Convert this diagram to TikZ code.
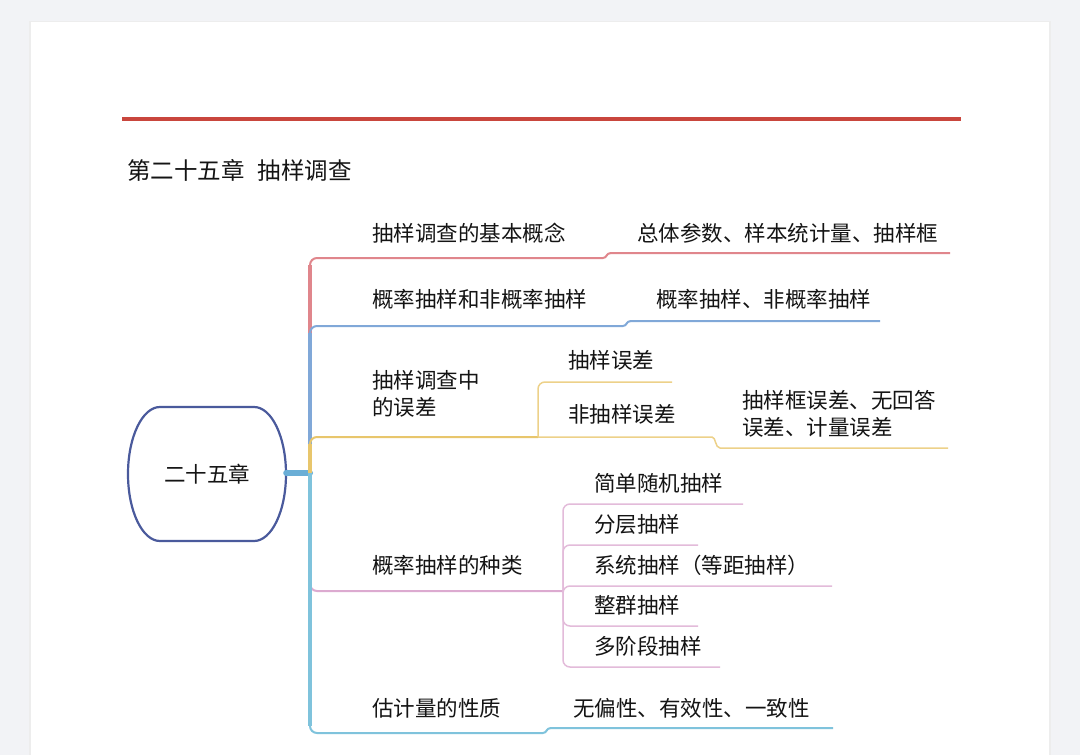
\documentclass[tikz,border=0pt]{standalone}
\usepackage{fontspec}
\setmainfont{Noto Sans CJK SC}
\usepackage{xcolor}
\usetikzlibrary{positioning}
\definecolor{pagebg}{HTML}{F2F3F6}
\definecolor{rulered}{HTML}{C9463D}
\definecolor{rootblue}{HTML}{4A5A9C}
\definecolor{hubblue}{HTML}{6AAED6}
\definecolor{redbr}{HTML}{E0868C}
\definecolor{bluebr}{HTML}{80A8D8}
\definecolor{yellowbr}{HTML}{E8C66C}
\definecolor{pinkbr}{HTML}{DCAAD0}
\definecolor{tealbr}{HTML}{7FC3DC}
\definecolor{inktext}{HTML}{141414}

\begin{document}
\begin{tikzpicture}[
  x=1pt, y=-1pt,
  label/.style={anchor=west, inner sep=0pt, align=left, text=inktext,
                font=\fontsize{21.5}{26.5}\selectfont},
  root/.style={minimum width=158pt, minimum height=134pt, inner sep=0pt,
               text=inktext, font=\fontsize{21.5}{26.5}\selectfont},
  trunk/.style={line width=4.5pt},
  branch/.style={line width=2pt, rounded corners=7pt},
  twig/.style={line width=1.5pt, rounded corners=7pt},
  stepline/.style={line width=2pt},
  smallstep/.style={line width=1.5pt}
]
  \useasboundingbox (0,0) rectangle (1080,755);

  % Page
  \fill[pagebg] (0,0) rectangle (1080,755);
  \fill[black!7] (29,21) rectangle (1051,755);
  \fill[white] (31,22) rectangle (1049,755);

  % Heading
  \draw[rulered, line width=4pt] (122,119) -- (961,119);
  \node[label, font=\fontsize{23.5}{28}\selectfont] (title) at (127,170) {第二十五章\hspace{0.55em}抽样调查};

  % Root
  \node[root] (root) at (207,474) {二十五章};
  \draw[rootblue, line width=2.2pt] (160,407) -- (254,407)
    arc[start angle=-90, end angle=90, x radius=32, y radius=67] -- (160,541)
    arc[start angle=90, end angle=270, x radius=32, y radius=67] -- cycle;
  \coordinate (hub) at (310,473);
  \draw[hubblue, line width=6pt, line cap=round] (root.east |- hub) -- (hub);

  % Branch texts
  \node[label] (basic) at (372,233) {抽样调查的基本概念};
  \node[label] (basicA) at (637,233) {总体参数、样本统计量、抽样框};
  \node[label] (kind) at (372,299) {概率抽样和非概率抽样};
  \node[label] (kindA) at (656,299) {概率抽样、非概率抽样};
  \node[label] (error) at (372,394) {抽样调查中\\的误差};
  \node[label] (errA) at (568,360) {抽样误差};
  \node[label] (errB) at (568,414) {非抽样误差};
  \node[label] (errC) at (742,414) {抽样框误差、无回答\\误差、计量误差};
  \node[label] (types) at (372,565) {概率抽样的种类};
  \node[label] (typeA) at (594,483) {简单随机抽样};
  \node[label] (typeB) at (594,524) {分层抽样};
  \node[label] (typeC) at (594,565) {系统抽样（等距抽样）};
  \node[label] (typeD) at (594,605) {整群抽样};
  \node[label] (typeE) at (594,646) {多阶段抽样};
  \node[label] (prop) at (372,708) {估计量的性质};
  \node[label] (propA) at (573,708) {无偏性、有效性、一致性};

  % Line ends
  \coordinate (basicStep) at (603,258);
  \coordinate (basicEnd) at (950,253);
  \coordinate (kindStep) at (623,326);
  \coordinate (kindEnd) at (880,321);
  \coordinate (errJ) at (538,437);
  \coordinate (errAEnd) at (672,382);
  \coordinate (errBStep) at (712,437);
  \coordinate (errCEnd) at (948,448);
  \coordinate (typeJ) at (563,591);
  \coordinate (propStep) at (543,733);
  \coordinate (propEnd) at (833,728);

  % Branch 1 (red)
  \draw[branch, redbr] (hub) |- (basicStep);
  \draw[stepline, redbr] (basicStep) .. controls (607,258) and (606,253) .. (611,253) -- (basicEnd);
  \draw[trunk, redbr] (hub) -- (310,265);

  % Branch 2 (blue)
  \draw[branch, bluebr] (hub) |- (kindStep);
  \draw[stepline, bluebr] (kindStep) .. controls (627,326) and (626,321) .. (631,321) -- (kindEnd);
  \draw[trunk, bluebr] (hub) -- (310,333);

  % Branch 3 (yellow)
  \draw[branch, yellowbr] (hub) |- (errJ);
  \draw[trunk, yellowbr] (hub) -- (310,444);
  \draw[twig, yellowbr!80!white] (errJ) |- (errAEnd);
  \draw[smallstep, yellowbr!80!white] (errJ) -- (errBStep)
    .. controls (716,437) and (715,448) .. (720,448) -- (errCEnd);

  % Branch 4 (pink)
  \draw[branch, pinkbr] (hub) |- (typeJ);
  \draw[trunk, pinkbr] (hub) -- (310,584);
  \foreach \ty/\tx in {504/743, 545/698, 586/832, 626/698, 667/720}
    \draw[twig, pinkbr!80!white] (typeJ) |- (\tx,\ty);

  % Branch 5 (teal)
  \draw[branch, tealbr] (hub) |- (propStep);
  \draw[stepline, tealbr] (propStep) .. controls (547,733) and (546,728) .. (551,728) -- (propEnd);
  \draw[trunk, tealbr] (hub) -- (310,726);
\end{tikzpicture}
\end{document}
